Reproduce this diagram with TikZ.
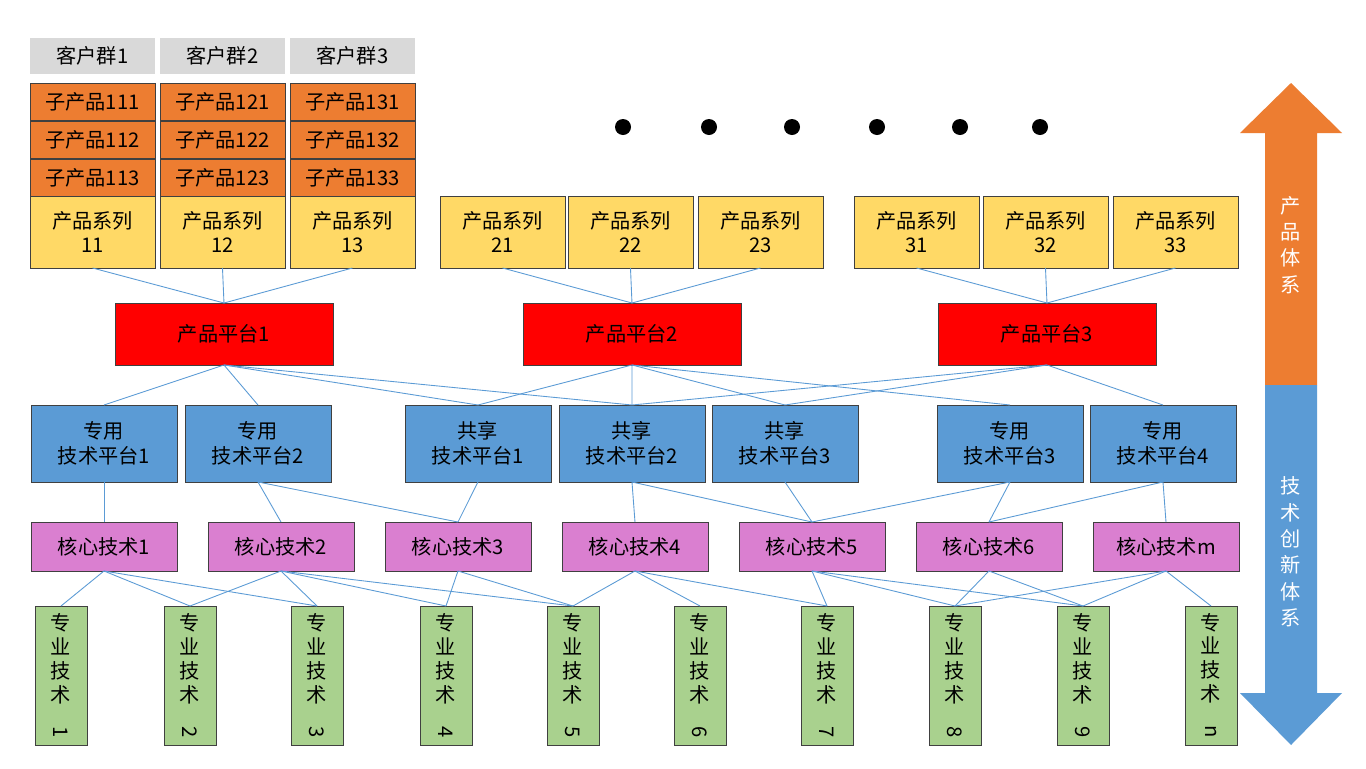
\documentclass[tikz,border=0pt]{standalone}
\usepackage{fontspec}
\setmainfont{Noto Sans CJK SC}
\usetikzlibrary{shapes.arrows}
\definecolor{grpgray}{HTML}{D9D9D9}
\definecolor{suborange}{HTML}{ED7D31}
\definecolor{seryellow}{HTML}{FFD966}
\definecolor{techblue}{HTML}{5B9BD5}
\definecolor{corepink}{HTML}{DA7FD0}
\definecolor{specgreen}{HTML}{A9D18E}
\newcommand{\bx}[5]{% style, name, x1, y1, x2/y2 text
}
\begin{document}
\begin{tikzpicture}[x=0.02cm,y=-0.02cm,
  box/.style={draw=black!75,inner sep=0pt,outer sep=0pt,align=center,font=\fontsize{11.5}{14}\selectfont,anchor=north west},
  grp/.style={box,draw=none,fill=grpgray,minimum width=2.5cm,minimum height=0.72cm},
  sub/.style={box,fill=suborange,minimum width=2.5cm,minimum height=0.74cm},
  series/.style={box,fill=seryellow,minimum width=2.5cm,minimum height=1.44cm},
  plat/.style={box,fill=red,minimum width=4.36cm,minimum height=1.24cm},
  tech/.style={box,fill=techblue,minimum width=2.92cm,minimum height=1.54cm},
  core/.style={box,fill=corepink,minimum width=2.92cm,minimum height=0.98cm},
  spec/.style={box,fill=specgreen,minimum width=1.04cm,minimum height=2.78cm,font=\fontsize{11.5}{13.6}\selectfont,anchor=north},
  link/.style={draw=techblue,line width=0.5pt}]
\useasboundingbox (0,0) rectangle (1366,768);
\fill[white] (0,0) rectangle (1366,768);

% customer groups and sub-products
\foreach \i/\x in {1/30,2/160,3/290}{
  \node[grp] (g\i) at (\x,38) {客户群\i};
  \node[sub] (s\i1) at (\x,83) {子产品1\i1};
  \node[sub] (s\i2) at (\x,121) {子产品1\i2};
  \node[sub] (s\i3) at (\x,159) {子产品1\i3};
}

% product series
\foreach \n/\x in {11/30,12/160,13/290,21/440,22/568,23/698,31/854,32/983,33/1113}
  \node[series] (r\n) at (\x,196) {产品系列\\\n};

% ellipsis dots
\foreach \x in {623,709,792,877,960,1040}
  \fill (\x,127) circle (8);

% product platforms
\node[plat] (p1) at (115,303) {产品平台1};
\node[plat] (p2) at (523,303) {产品平台2};
\node[plat] (p3) at (938,303) {产品平台3};

% technology platforms
\node[tech] (d1) at (31,405) {专用\\技术平台1};
\node[tech] (d2) at (185,405) {专用\\技术平台2};
\node[tech] (t1) at (405,405) {共享\\技术平台1};
\node[tech] (t2) at (559,405) {共享\\技术平台2};
\node[tech] (t3) at (712,405) {共享\\技术平台3};
\node[tech] (d3) at (937,405) {专用\\技术平台3};
\node[tech] (d4) at (1090,405) {专用\\技术平台4};

% core technologies
\foreach \n/\x in {1/31,2/208,3/385,4/562,5/739,6/916,m/1093}
  \node[core] (c\n) at (\x,522) {核心技术\n};

% specialist technologies
\foreach \n/\x in {1/61,2/190,3/317,4/446,5/573,6/700,7/827,8/955,9/1083,n/1211}
  \node[spec] (z\n) at (\x,606) {专\\业\\技\\术\\\rotatebox{-90}{\n}};

% links
\foreach \a/\b in {r11/p1,r12/p1,r13/p1,r21/p2,r22/p2,r23/p2,r31/p3,r32/p3,r33/p3,
  p1/d1,p1/d2,p1/t1,p1/t2,p2/t1,p2/t2,p2/t3,p2/d3,p3/t2,p3/t3,p3/d4,
  d1/c1,d2/c2,d2/c3,t1/c3,t2/c4,t2/c5,t3/c5,d3/c5,d3/c6,d4/c6,d4/cm,
  c1/z1,c1/z2,c1/z3,c2/z2,c2/z3,c2/z4,c2/z5,c3/z4,c3/z5,c4/z5,c4/z6,c4/z7,
  c5/z7,c5/z8,c5/z9,c6/z8,c6/z9,cm/z8,cm/z9,cm/zn}
  \draw[link] (\a.south) -- (\b.north);

% side arrows
\fill[suborange] (1265,385) -- (1265,133) -- (1240,133) -- (1291,83) -- (1342,133) -- (1317,133) -- (1317,385) -- cycle;
\fill[techblue] (1265,385) -- (1265,693) -- (1240,693) -- (1291,745) -- (1342,693) -- (1317,693) -- (1317,385) -- cycle;
\node[white,align=center,font=\fontsize{11.5}{15}\selectfont] (sysp) at (1291,245) {产\\品\\体\\系};
\node[white,align=center,font=\fontsize{11.5}{15}\selectfont] (syst) at (1291,552) {技\\术\\创\\新\\体\\系};
\end{tikzpicture}
\end{document}
